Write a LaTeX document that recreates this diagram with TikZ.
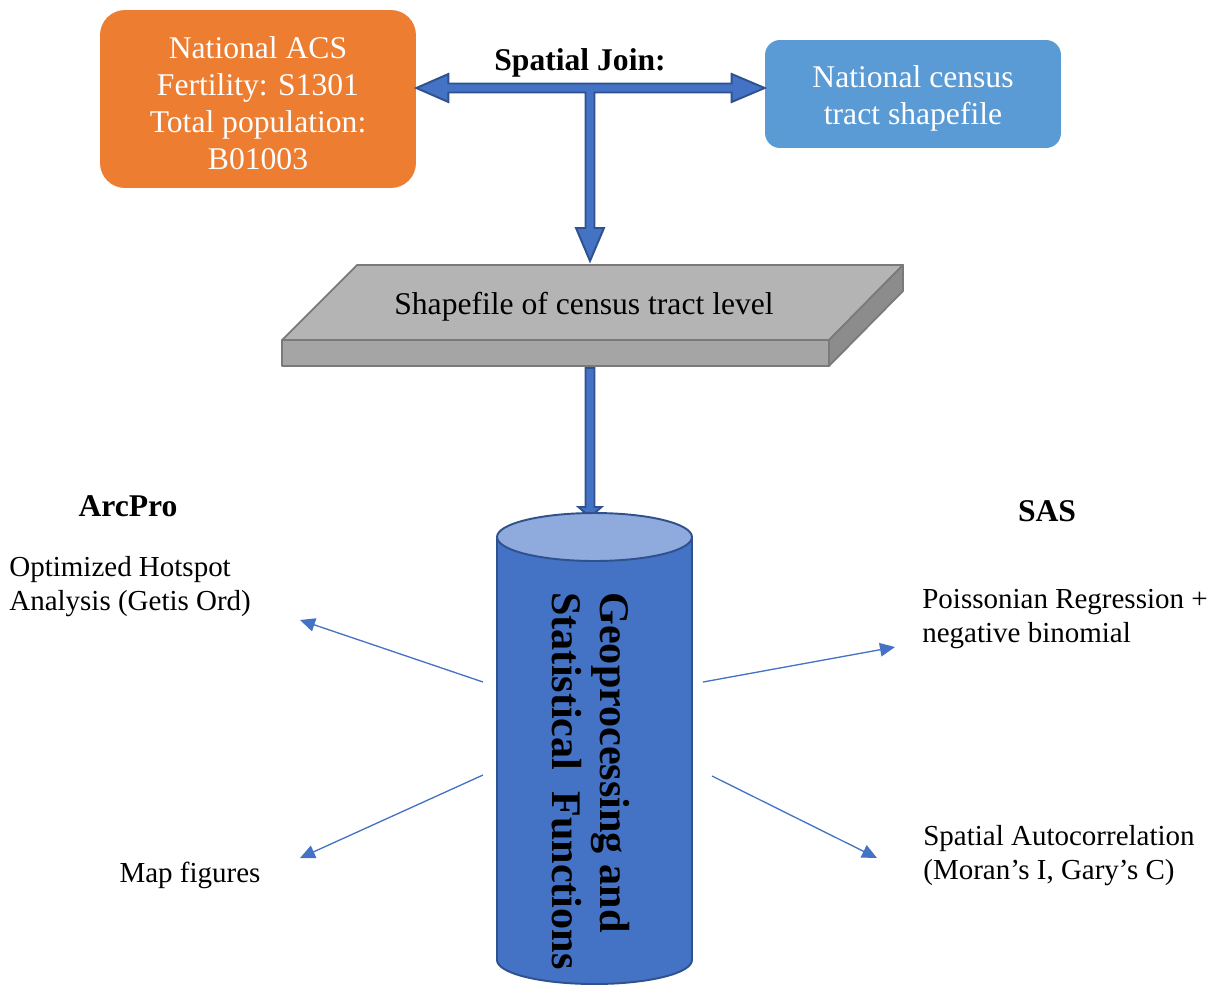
\documentclass[tikz,border=0pt]{standalone}
\usepackage{fontspec}
\setmainfont{Liberation Serif}
\usepackage{xcolor}
\definecolor{acsorange}{HTML}{ED7D31}
\definecolor{tractblue}{HTML}{5B9BD5}
\definecolor{arrowfill}{HTML}{4472C4}
\definecolor{arrowborder}{HTML}{2F528F}
\definecolor{cylcap}{HTML}{8FAADC}
\definecolor{slabtop}{HTML}{B4B4B4}
\definecolor{slabfront}{HTML}{A5A5A5}
\definecolor{slabside}{HTML}{8C8C8C}
\definecolor{slabedge}{HTML}{7A7A7A}
\usetikzlibrary{positioning,arrows.meta,calc}
\tikzset{
    srcbox/.style={
        rectangle,
        fill=acsorange,
        minimum width=6.32cm,
        minimum height=3.56cm,
        rounded corners=0.5cm,
    },
    shpbox/.style={
        rectangle,
        fill=tractblue,
        minimum width=5.92cm,
        minimum height=2.16cm,
        rounded corners=0.3cm,
    },
    boxtext/.style={
        text=white,
        align=center,
        inner sep=0pt,
        font=\fontsize{18}{21}\selectfont,
    },
    blockarrow/.style={
        fill=arrowfill,
        draw=arrowborder,
        line width=1.1pt,
        line join=miter,
    },
    thinarrow/.style={
        -{Triangle[length=0.3cm,width=0.27cm]},
        arrowfill,
        line width=0.75pt,
    },
    slabface/.style={
        draw=slabedge,
        line width=1pt,
        line join=round,
    },
    cylbody/.style={
        fill=arrowfill,
        draw=arrowborder,
        line width=1.1pt,
    },
    heading/.style={
        inner sep=0pt,
        font=\fontsize{18}{21}\selectfont\bfseries,
    },
    method/.style={
        inner sep=0pt,
        align=left,
        font=\fontsize{16.5}{19.3}\selectfont,
    },
}
\begin{document}
\begin{tikzpicture}[x=0.02cm, y=-0.02cm]
    \useasboundingbox (0,0) rectangle (1223,985);

    % inputs of the spatial join
    \node[srcbox] (acs) at (258,99) {};
    \node[boxtext] (acstext) at (258,103) {National ACS\\Fertility: S1301\\Total population:\\B01003};
    \node[shpbox] (tract) at (913,94) {};
    \node[boxtext] (tracttext) at (913,98) {National census\\tract shapefile};
    \node[heading] (join) at (580,63) {Spatial Join:};

    \coordinate (jn) at (590,88);
    \coordinate (tipL) at (acs.east |- jn);
    \coordinate (tipR) at (tract.west |- jn);
    \coordinate (tipD) at (590,261);
    \draw[blockarrow] (tipL) -- ($(tipL)+(32,-14)$) -- ($(tipL)+(32,-4.5)$)
        -- ($(tipR)+(-33,-4.5)$) -- ($(tipR)+(-33,-14)$) -- (tipR)
        -- ($(tipR)+(-33,14)$) -- ($(tipR)+(-33,4.5)$) -- ($(jn)+(4.5,4.5)$)
        -- ($(tipD)+(4.5,-33)$) -- ($(tipD)+(14,-33)$) -- (tipD)
        -- ($(tipD)+(-14,-33)$) -- ($(tipD)+(-4.5,-33)$) -- ($(jn)+(-4.5,4.5)$)
        -- ($(tipL)+(32,4.5)$) -- ($(tipL)+(32,14)$) -- cycle;

    % census tract slab
    \coordinate (fl) at (282,340);
    \coordinate (fr) at (829,340);
    \coordinate (bl) at (357,265);
    \coordinate (br) at (903,265);
    \coordinate (flb) at (282,366);
    \coordinate (frb) at (829,366);
    \coordinate (brb) at (903,291);
    \draw[slabface, fill=slabtop] (fl) -- (bl) -- (br) -- (fr) -- cycle;
    \draw[slabface, fill=slabfront] (fl) -- (fr) -- (frb) -- (flb) -- cycle;
    \draw[slabface, fill=slabside] (fr) -- (br) -- (brb) -- (frb) -- cycle;
    \node[font=\fontsize{18}{21}\selectfont] (slab) at (584,307) {Shapefile of census tract level};

    \coordinate (slabout) at (590,368);
    \coordinate (cylin) at (590,517);
    \draw[blockarrow] ($(slabout)+(-4.5,0)$) -- ($(slabout)+(4.5,0)$)
        -- ($(cylin)+(4.5,-10)$) -- ($(cylin)+(11.5,-10)$) -- (cylin)
        -- ($(cylin)+(-11.5,-10)$) -- ($(cylin)+(-4.5,-10)$) -- cycle;

    % cylinder
    \draw[cylbody] (497,537) -- (497,960)
        arc[start angle=180, end angle=360, x radius=1.95cm, y radius=0.48cm]
        -- (692,537) -- cycle;
    \draw[cylbody, fill=cylcap] (594.5,537) ellipse[x radius=1.95cm, y radius=0.48cm];
    \node[rotate=-90, align=left, font=\fontsize{24}{27.3}\selectfont\bfseries] (geo) at (591,781)
        {Geoprocessing and\\Statistical~ Functions};

    % tools
    \node[heading] (arcpro) at (128,506) {ArcPro};
    \node[heading] (sas) at (1047,511) {SAS};
    \node[method, anchor=west] (hotspot) at (9,587) {Optimized Hotspot\\Analysis (Getis Ord)};
    \node[method] (mapfig) at (190,875) {Map figures};
    \node[method, anchor=west] (poisson) at (922,619) {Poissonian Regression +\\negative binomial};
    \node[method, anchor=west] (moran) at (923,856) {Spatial Autocorrelation\\(Moran’s I, Gary’s C)};

    \coordinate (hotS) at (483,682);
    \coordinate (hotE) at (300,620);
    \coordinate (mapS) at (483,775);
    \coordinate (mapE) at (300,858);
    \coordinate (poiS) at (703,682);
    \coordinate (poiE) at (895,647);
    \coordinate (morS) at (712,776);
    \coordinate (morE) at (877,858);
    \draw[thinarrow] (hotS) -- (hotE);
    \draw[thinarrow] (mapS) -- (mapE);
    \draw[thinarrow] (poiS) -- (poiE);
    \draw[thinarrow] (morS) -- (morE);
\end{tikzpicture}
\end{document}
